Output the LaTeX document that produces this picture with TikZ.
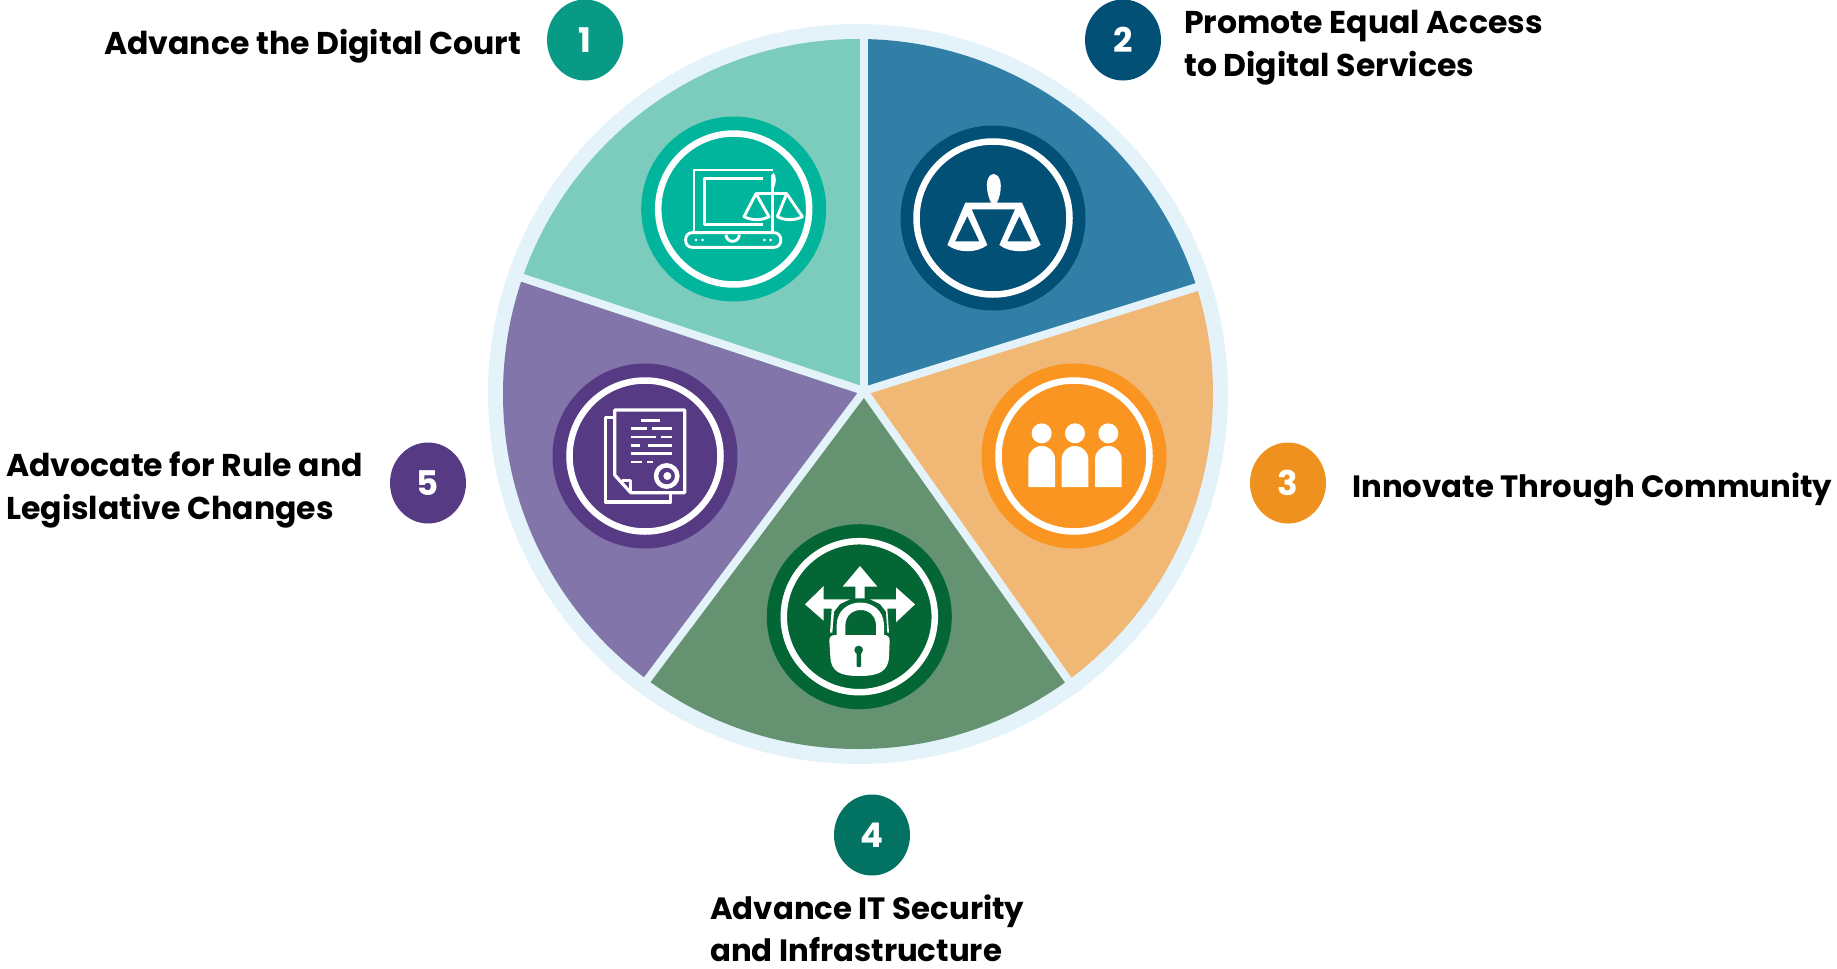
\documentclass[tikz,border=0pt]{standalone}
\usetikzlibrary{shapes.geometric}
\usepackage{fontspec}
\setmainfont{Poppins}[BoldFont={Poppins Bold}]
\definecolor{ring}{HTML}{E3F3F9}
\definecolor{wa}{HTML}{7CCCBE}\definecolor{da}{HTML}{00B59B}\definecolor{ba}{HTML}{089A84}
\definecolor{wb}{HTML}{317FA6}\definecolor{db}{HTML}{035077}
\definecolor{wc}{HTML}{F1B774}\definecolor{dc}{HTML}{F99520}\definecolor{bc}{HTML}{EF911E}
\definecolor{wd}{HTML}{659271}\definecolor{dd}{HTML}{046635}\definecolor{bd}{HTML}{027262}
\definecolor{we}{HTML}{8275AA}\definecolor{de}{HTML}{573A84}
\newcommand\dg[1]{\raisebox{-1.5pt}{#1}}
\tikzset{
  lab/.style={font=\bfseries\fontsize{31.5}{43}\selectfont,text=black,align=left,inner sep=0pt,anchor=west},
  labsmall/.style={lab,font=\bfseries\fontsize{30.8}{42}\selectfont},
  badge/.style={ellipse,minimum width=76,minimum height=81,inner sep=0,text=white,font=\bfseries\fontsize{34}{34}\selectfont},
  disc/.style={circle,minimum size=185,inner sep=0},
  hoop/.style={circle,minimum size=151,inner sep=0,draw=white,line width=6.5},
  thin/.style={draw=white,line width=2.9,fill=none},
  divider/.style={draw=ring,line width=8}
}
\begin{document}
\begin{tikzpicture}[x=1pt,y=-1pt,line join=round]
\useasboundingbox[fill=white] (0,0) rectangle (1837,969);
% ring and wedges
\fill[ring] (858,394) circle (370);
\coordinate (apex) at (864,391);
\begin{scope}
\clip (858,394) circle (355);
\fill[wa] (apex) -- (864,0) -- (400,0) -- (400,237) -- cycle;
\fill[wb] (apex) -- (864,0) -- (1300,0) -- (1300,255) -- cycle;
\fill[wc] (apex) -- (1300,255) -- (1300,800) -- (1150,796) -- cycle;
\fill[wd] (apex) -- (1150,796) -- (559,796) -- cycle;
\fill[we] (apex) -- (559,796) -- (400,796) -- (400,237) -- cycle;
\end{scope}
\coordinate (e1) at (864,34);
\coordinate (e2) at (1205,284.5);
\coordinate (e3) at (1071,684);
\coordinate (e4) at (644,684);
\coordinate (e5) at (517,276);
\foreach \e in {e1,e2,e3,e4,e5} \draw[divider] (apex) -- (\e);
% discs and hoops
\node[disc,fill=da] (d1) at (733.7,209) {};
\node[hoop] at (d1) {};
\node[disc,fill=db] (d2) at (993,218) {};
\node[hoop,minimum size=153] at (d2) {};
\node[disc,fill=dc] (d3) at (1074,456) {};
\node[hoop] at (d3) {};
\node[disc,fill=dd] (d4) at (859.3,616.7) {};
\node[hoop] at (d4) {};
\node[disc,fill=de] (d5) at (645,456) {};
\node[hoop] at (d5) {};
% icon 1: laptop with scales
\begin{scope}[shift={(620,100)},scale=1/3]
\draw[thin] (458,210) -- (222,210) -- (222,395);
\draw[thin] (430,235) -- (253,235) -- (253,373) -- (430,373);
\draw[thin] (458,225) -- (458,396);
\draw[thin,rounded corners=6.5] (197,398) rectangle (482,442);
\draw[thin] (318,404) arc[start angle=180,end angle=0,radius=20];
\foreach \x in {228,248,433,452} \fill[white] (\x,420) circle (4.5);
\fill[white] (460,218) .. controls (450,225) and (450,250) .. (460,268) .. controls (470,250) and (470,225) .. (460,218) -- cycle;
\draw[thin] (408,281) -- (500,281);
\draw[thin] (408,281) -- (372,350) .. controls (395,362) and (425,362) .. (447,350) -- cycle;
\draw[thin] (500,281) -- (472,350) .. controls (495,362) and (525,362) .. (547,350) -- cycle;
\end{scope}
% icon 2: scales
\begin{scope}[shift={(880,110)},scale=1/3]
\fill[white] (341,192) .. controls (312,195) and (318,250) .. (334,280) -- (350,280) .. controls (366,250) and (370,195) .. (341,192) -- cycle;
\fill[white,even odd rule] (256,278) -- (426,278) -- (482,405) .. controls (450,430) and (390,430) .. (358,405) -- (405,298) -- (275,298) -- (322,405) .. controls (290,430) and (235,430) .. (202,405) -- cycle
 (262,318) -- (298,394) -- (225,394) -- cycle
 (418,318) -- (455,394) -- (382,394) -- cycle;
\end{scope}
% icon 3: people
\begin{scope}[shift={(960,350)},scale=1/3]
\foreach \x in {245,345,445} {
  \fill[white] (\x,250) circle (30);
  \fill[white] (\x-40,411) -- (\x-40,328) .. controls (\x-40,305) and (\x-22,288) .. (\x,288) .. controls (\x+22,288) and (\x+40,305) .. (\x+40,328) -- (\x+40,411) -- cycle;
}
\end{scope}
% icon 4: arrows and padlock
\begin{scope}[shift={(750,510)},scale=1/3]
\fill[white] (330,168) -- (382,230) -- (344,230) -- (344,265) -- (316,265) -- (316,230) -- (278,230) -- cycle;
\fill[white] (165,283) -- (221,228) -- (221,268) -- (300,268) -- (270,282) -- (252,305) -- (247,368) -- (240,368) -- (245,296) -- (221,296) -- (221,332) -- cycle;
\fill[white] (495,283) -- (438,232) -- (438,268) -- (360,268) -- (390,282) -- (408,305) -- (412,368) -- (417,368) -- (412,296) -- (438,296) -- (438,337) -- cycle;
\fill[white,even odd rule] (260,378) -- (260,345) .. controls (262,255) and (400,255) .. (402,345) -- (402,378) -- (378,378) -- (378,345) .. controls (376,285) and (288,285) .. (286,345) -- (286,378) -- cycle;
\fill[white] (238,392) .. controls (238,380) and (245,375) .. (255,375) -- (402,375) .. controls (412,375) and (419,380) .. (419,392) -- (417,440) .. controls (415,485) and (385,498) .. (328,498) .. controls (270,498) and (243,485) .. (241,440) -- cycle;
\fill[dd] (326,420) circle (13);
\fill[dd,rounded corners=1] (320,425) rectangle (333,471);
\end{scope}
% icon 5: documents
\begin{scope}[shift={(540,350)},scale=1/3]
\draw[thin,line width=3.2] (270,428) -- (434,428) -- (434,180) -- (224,180) -- (224,375) -- (272,428);
\draw[thin,line width=3.2] (224,202) -- (196,202) -- (196,456) -- (392,456) -- (392,430);
\draw[thin,line width=3.2] (246,392) -- (272,392) -- (272,425);
\foreach \a/\b/\y in {303/360/211,272/320/236,335/397/236,272/347/261,362/397/261,272/300/286,325/397/286,272/397/311,272/305/336,320/340/336}
  \draw[thin] (\a,\y) -- (\b,\y);
\fill[de] (380,378) circle (45);
\draw[white,line width=4.5] (380,378) circle (32);
\fill[white] (382,378) circle (12);
\end{scope}
% badges and labels
\node[badge,fill=ba] (b1) at (585,40) {\dg{1}};
\node[badge,fill=db] (b2) at (1123,40) {\dg{2}};
\node[badge,fill=bc] (b3) at (1288,483) {\dg{3}};
\node[badge,fill=bd] (b4) at (872,835) {\dg{4}};
\node[badge,fill=de] (b5) at (428,483) {\dg{5}};
\node[lab] (l1) at (104,46) {Advance the Digital Court};
\node[lab] (l2) at (1184,47.5) {Promote Equal Access\\to Digital Services};
\node[labsmall] (l3) at (1352,489) {Innovate Through Community};
\node[labsmall] (l4) at (710,928) {Advance IT Security\\and Infrastructure};
\node[lab] (l5) at (6,490) {Advocate for Rule and\\Legislative Changes};
\end{tikzpicture}
\end{document}
